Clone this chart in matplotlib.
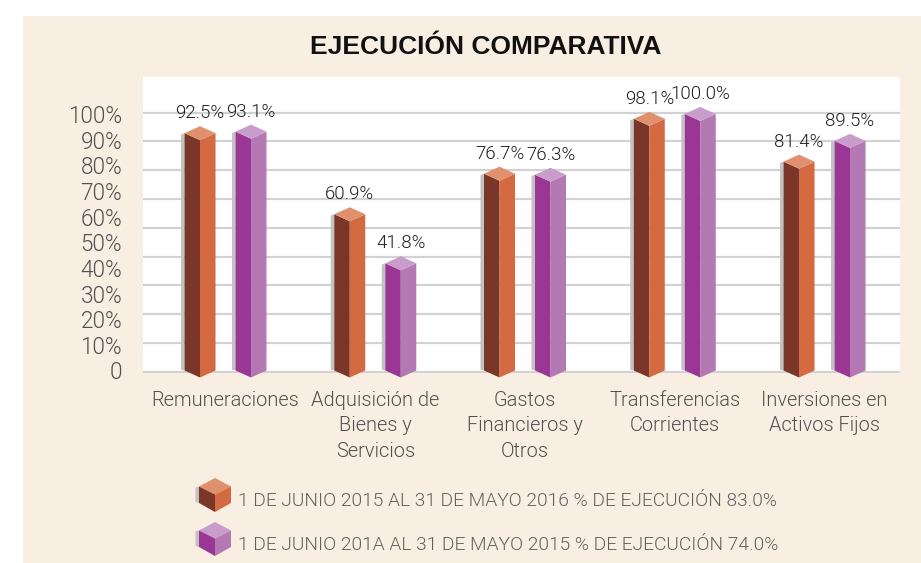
import numpy as np
import matplotlib
matplotlib.use("Agg")
import matplotlib.pyplot as plt
from matplotlib.patches import Polygon, Rectangle
from matplotlib import font_manager as fm

# ---------------- data ----------------
categories = ["Remuneraciones", "Adquisición de\nBienes y\nServicios",
              "Gastos\nFinancieros y\nOtros", "Transferencias\nCorrientes",
              "Inversiones en\nActivos Fijos"]
serie_2016 = [92.5, 60.9, 76.7, 98.1, 81.4]
serie_2015 = [93.1, 41.8, 76.3, 100.0, 89.5]
series_labels = ["1 DE JUNIO 2015 AL 31 DE MAYO 2016 % DE EJECUCIÓN 83.0%",
                 "1 DE JUNIO 201A AL 31 DE MAYO 2015 % DE EJECUCIÓN 74.0%"]
ytick_values = [0, 10, 20, 30, 40, 50, 60, 70, 80, 90, 100]
ytick_labels = ["0"] + [f"{v}%" for v in ytick_values[1:]]
title = "EJECUCIÓN COMPARATIVA"

# ---------------- fonts ----------------
light = [f for f in fm.fontManager.ttflist
         if f.name in ("Roboto", "Lato", "Open Sans") and f.style == "normal"
         and isinstance(f.weight, int) and 250 <= f.weight <= 350]
light.sort(key=lambda f: ("Roboto", "Lato", "Open Sans").index(f.name))
cond = [f for f in fm.fontManager.ttflist
        if "condensed" in str(f.stretch).lower() and f.style == "normal"
        and (f.weight == 400 or f.weight == "normal")]
if light:
    FNAME = light[0].fname
elif cond:
    FNAME = cond[0].fname
else:
    FNAME = None


def nfont(size):
    if FNAME:
        return fm.FontProperties(fname=FNAME, size=size)
    return fm.FontProperties(family=["Roboto", "DejaVu Sans"], size=size)


W, H = 921, 563
fig = plt.figure(figsize=(W / 100, H / 100), dpi=100)
fig.patch.set_facecolor("white")
renderer = fig.canvas.get_renderer()


def fit_size(sample, target_px, base=20.0):
    t = fig.text(0, 0, sample, fontproperties=nfont(base))
    wpx = t.get_window_extent(renderer).width
    t.remove()
    return base * target_px / wpx


SZ_TICK = fit_size("100%", 54)
SZ_VAL = fit_size("92.5%", 49)
SZ_CAT = fit_size("Remuneraciones", 148)
SZ_LEG = fit_size(series_labels[0], 536)

# ---------------- style ----------------
BEIGE = "#f8efe2"
GRID = "#d2d2d2"
TXT = "#505050"
orange = dict(left="#7a3629", right="#d46a42", top="#e0906c")
purple = dict(left="#9a3794", right="#b479b3", top="#c89ccb")

# background layer
bg = fig.add_axes([0, 0, 1, 1], zorder=0)
bg.set_xlim(0, W)
bg.set_ylim(H, 0)
bg.axis("off")
bg.add_patch(Rectangle((23, 16), W - 23, H - 16, facecolor=BEIGE, edgecolor="none"))
bg.text(486, 47, title, ha="center", va="center", fontsize=19, fontweight="bold",
        family=["Liberation Sans", "DejaVu Sans"], color="#111111")

# main axes (white plot area)
ax_l, ax_r, ax_t, ax_b = 143, 900, 77, 372.7
ax = fig.add_axes([ax_l / W, (H - ax_b) / H, (ax_r - ax_l) / W, (ax_b - ax_t) / H], zorder=1)
ax.set_facecolor("white")
ax.set_ylim(-0.86, 114.4)
ax.set_xlim(-0.551, 4.504)
for s in ax.spines.values():
    s.set_visible(False)

for g in np.linspace(-0.5, 100.5, 10):
    ax.axhline(g, color=GRID, lw=1.6, zorder=1)

ax.set_xticks([])
ax.set_yticks(ytick_values)
ax.set_yticklabels(ytick_labels, fontproperties=nfont(SZ_TICK), color=TXT)
ax.tick_params(axis="y", length=0, pad=15)

xu = 149.75   # px per x unit
yu = 2.565    # px per y unit
w = 15.5 / xu
off = 25.5 / xu
d = 7 / yu
sh = 3.5 / xu


def draw_bar(x, v, c):
    ax.add_patch(Polygon([(x - w - sh, 0.3), (x - w, 0), (x - w, v), (x - w - sh, v - 0.5)],
                         closed=True, facecolor="#c2c2c2", edgecolor="none", zorder=3, clip_on=False))
    ax.add_patch(Polygon([(x - w, v), (x, v - d), (x, -d), (x - w, 0)], closed=True,
                         facecolor=c["left"], edgecolor="none", zorder=4, clip_on=False))
    ax.add_patch(Polygon([(x, v - d), (x + w, v), (x + w, 0), (x, -d)], closed=True,
                         facecolor=c["right"], edgecolor="none", zorder=4, clip_on=False))
    ax.add_patch(Polygon([(x - w, v), (x, v + d), (x + w, v), (x, v - d)], closed=True,
                         facecolor=c["top"], edgecolor="none", zorder=5, clip_on=False))
    ax.text(x, v + d + 8 / yu, f"{v:.1f}%", ha="center", va="baseline",
            fontproperties=nfont(SZ_VAL), color="#1e1e1e", zorder=6, clip_on=False)


for i, (a, b) in enumerate(zip(serie_2016, serie_2015)):
    draw_bar(i - off, a, orange)
    draw_bar(i + off, b, purple)
    ax.text(i, -(391 - 370.5) / yu, categories[i], ha="center", va="top",
            fontproperties=nfont(SZ_CAT), color=TXT, linespacing=1.42, clip_on=False)

# legend layer
lg = fig.add_axes([0, 0, 1, 1], zorder=2)
lg.set_xlim(0, W)
lg.set_ylim(H, 0)
lg.axis("off")
for k, (c, lab) in enumerate(zip([orange, purple], series_labels)):
    dy = 44 * k
    cx, top = 215, 478 + dy
    ul, ll = (199, top + 8.5), (199, top + 25)
    ur, lr = (231, top + 8.5), (231, top + 25)
    t, ctr, bot = (cx, top), (cx, top + 16.5), (cx, top + 34)
    lg.add_patch(Polygon([(195.5, ul[1] + 1), ul, ll, (195.5, ll[1] - 1)], closed=True,
                         facecolor="#c2c2c2", edgecolor="none"))
    lg.add_patch(Polygon([t, ur, ctr, ul], closed=True, facecolor=c["top"], edgecolor="none"))
    lg.add_patch(Polygon([ul, ctr, bot, ll], closed=True, facecolor=c["left"], edgecolor="none"))
    lg.add_patch(Polygon([ctr, ur, lr, bot], closed=True, facecolor=c["right"], edgecolor="none"))
    lg.text(238, 505.5 + dy, lab, ha="left", va="baseline",
            fontproperties=nfont(SZ_LEG), color="#606060")

fig.savefig("out.png", dpi=100, facecolor=fig.get_facecolor())
